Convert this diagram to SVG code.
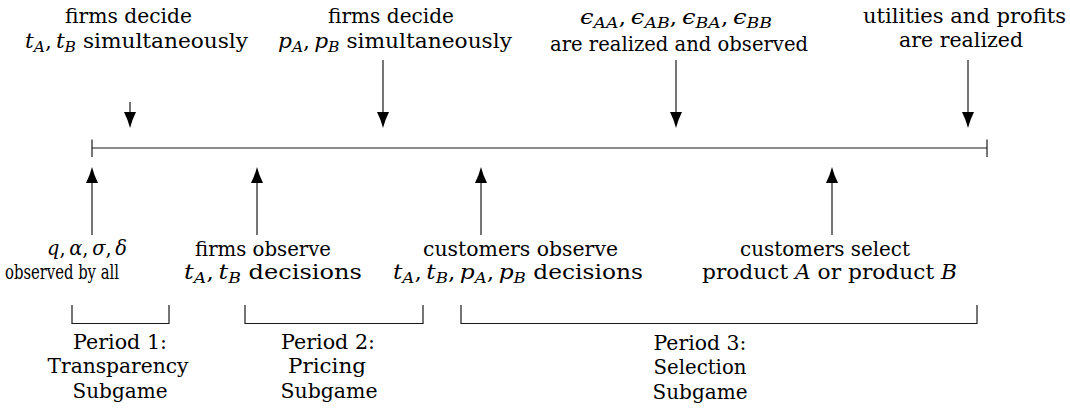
<svg xmlns="http://www.w3.org/2000/svg" width="1070" height="409" viewBox="0 0 1070 409">
  <style>
    text { font-family: "DejaVu Serif", "Liberation Serif", serif; font-size: 21px; fill: #000; }
    .mi { font-style: italic; }
    .sb { font-size: 15px; font-style: italic; }
    .ln { stroke: #1a1a1a; stroke-width: 1.2; fill: none; }
  </style>
  <defs>
    <marker id="tip" markerUnits="userSpaceOnUse" viewBox="-17 -7 18 14" refX="-6" refY="0" markerWidth="18" markerHeight="14" orient="auto">
      <path d="M0,0 Q-8,-2 -16,-6 L-16,6 Q-8,2 0,0 Z" fill="#000"/>
    </marker>
  </defs>

  <!-- time axis with end ticks -->
  <g id="timeline" class="ln">
    <line x1="92" y1="148" x2="987" y2="148"/>
    <line x1="92" y1="139.5" x2="92" y2="157"/>
    <line x1="987" y1="139.5" x2="987" y2="157"/>
  </g>

  <!-- events above the axis -->
  <g id="ev-transparency">
    <text x="65" y="23" textLength="127" lengthAdjust="spacingAndGlyphs">firms decide</text>
    <text x="25" y="48" textLength="223" lengthAdjust="spacingAndGlyphs"><tspan class="mi">t</tspan><tspan class="sb" dy="4">A</tspan><tspan dy="-4">,</tspan><tspan class="mi" dx="4">t</tspan><tspan class="sb" dy="4">B</tspan><tspan dy="-4"> simultaneously</tspan></text>
  </g>
  <g id="ev-pricing">
    <text x="328" y="23" textLength="126" lengthAdjust="spacingAndGlyphs">firms decide</text>
    <text x="278" y="48" textLength="234" lengthAdjust="spacingAndGlyphs"><tspan class="mi">p</tspan><tspan class="sb" dy="4">A</tspan><tspan dy="-4">,</tspan><tspan class="mi" dx="4">p</tspan><tspan class="sb" dy="4">B</tspan><tspan dy="-4"> simultaneously</tspan></text>
  </g>
  <g id="ev-shocks">
    <text x="580" y="24" textLength="192" lengthAdjust="spacingAndGlyphs"><tspan class="mi">ϵ</tspan><tspan class="sb" dy="4">AA</tspan><tspan dy="-4">,</tspan><tspan class="mi" dx="4">ϵ</tspan><tspan class="sb" dy="4">AB</tspan><tspan dy="-4">,</tspan><tspan class="mi" dx="4">ϵ</tspan><tspan class="sb" dy="4">BA</tspan><tspan dy="-4">,</tspan><tspan class="mi" dx="4">ϵ</tspan><tspan class="sb" dy="4">BB</tspan></text>
    <text x="550" y="51" textLength="258" lengthAdjust="spacingAndGlyphs">are realized and observed</text>
  </g>
  <g id="ev-payoffs">
    <text x="863" y="23" textLength="203" lengthAdjust="spacingAndGlyphs">utilities and profits</text>
    <text x="899" y="47" textLength="124" lengthAdjust="spacingAndGlyphs">are realized</text>
  </g>

  <!-- events below the axis -->
  <g id="ob-params">
    <text x="47" y="255" textLength="80" lengthAdjust="spacingAndGlyphs"><tspan class="mi">q</tspan>,<tspan class="mi" dx="4">α</tspan>,<tspan class="mi" dx="4">σ</tspan>,<tspan class="mi" dx="4">δ</tspan></text>
    <text x="5" y="279" textLength="114" lengthAdjust="spacingAndGlyphs">observed by all</text>
  </g>
  <g id="ob-transparency">
    <text x="195" y="256" textLength="136" lengthAdjust="spacingAndGlyphs">firms observe</text>
    <text x="184" y="279" textLength="178" lengthAdjust="spacingAndGlyphs"><tspan class="mi">t</tspan><tspan class="sb" dy="4">A</tspan><tspan dy="-4">,</tspan><tspan class="mi" dx="4">t</tspan><tspan class="sb" dy="4">B</tspan><tspan dy="-4"> decisions</tspan></text>
  </g>
  <g id="ob-prices">
    <text x="423" y="256" textLength="195" lengthAdjust="spacingAndGlyphs">customers observe</text>
    <text x="393" y="279" textLength="250" lengthAdjust="spacingAndGlyphs"><tspan class="mi">t</tspan><tspan class="sb" dy="4">A</tspan><tspan dy="-4">,</tspan><tspan class="mi" dx="4">t</tspan><tspan class="sb" dy="4">B</tspan><tspan dy="-4">,</tspan><tspan class="mi" dx="4">p</tspan><tspan class="sb" dy="4">A</tspan><tspan dy="-4">,</tspan><tspan class="mi" dx="4">p</tspan><tspan class="sb" dy="4">B</tspan><tspan dy="-4"> decisions</tspan></text>
  </g>
  <g id="ob-selection">
    <text x="740" y="256" textLength="170" lengthAdjust="spacingAndGlyphs">customers select</text>
    <text x="702" y="279" textLength="255" lengthAdjust="spacingAndGlyphs">product <tspan class="mi">A</tspan> or product <tspan class="mi">B</tspan></text>
  </g>

  <!-- period brackets -->
  <g id="brackets" class="ln">
    <polyline points="72,305 72,323.5 169,323.5 169,305"/>
    <polyline points="245,305 245,323.5 423,323.5 423,305"/>
    <polyline points="461,305 461,323.5 977,323.5 977,305"/>
  </g>

  <!-- period captions -->
  <g id="period-1" text-anchor="middle">
    <text x="120" y="349" textLength="94" lengthAdjust="spacingAndGlyphs">Period 1:</text>
    <text x="118" y="373" textLength="141" lengthAdjust="spacingAndGlyphs">Transparency</text>
    <text x="120" y="398" textLength="95" lengthAdjust="spacingAndGlyphs">Subgame</text>
  </g>
  <g id="period-2" text-anchor="middle">
    <text x="328" y="349" textLength="94" lengthAdjust="spacingAndGlyphs">Period 2:</text>
    <text x="327" y="373" textLength="78" lengthAdjust="spacingAndGlyphs">Pricing</text>
    <text x="329" y="398" textLength="97" lengthAdjust="spacingAndGlyphs">Subgame</text>
  </g>
  <g id="period-3" text-anchor="middle">
    <text x="700" y="350" textLength="93" lengthAdjust="spacingAndGlyphs">Period 3:</text>
    <text x="700" y="374" textLength="93" lengthAdjust="spacingAndGlyphs">Selection</text>
    <text x="700" y="399" textLength="95" lengthAdjust="spacingAndGlyphs">Subgame</text>
  </g>

  <!-- event arrows -->
  <g id="connectors" class="ln" marker-end="url(#tip)">
    <line x1="130" y1="102" x2="130" y2="122"/>
    <line x1="383" y1="60" x2="383" y2="122"/>
    <line x1="676" y1="60" x2="676" y2="122"/>
    <line x1="968" y1="60" x2="968" y2="122"/>
    <line x1="92" y1="235" x2="92" y2="173"/>
    <line x1="257" y1="235" x2="257" y2="173"/>
    <line x1="481" y1="235" x2="481" y2="173"/>
    <line x1="832" y1="235" x2="832" y2="173"/>
  </g>
</svg>
